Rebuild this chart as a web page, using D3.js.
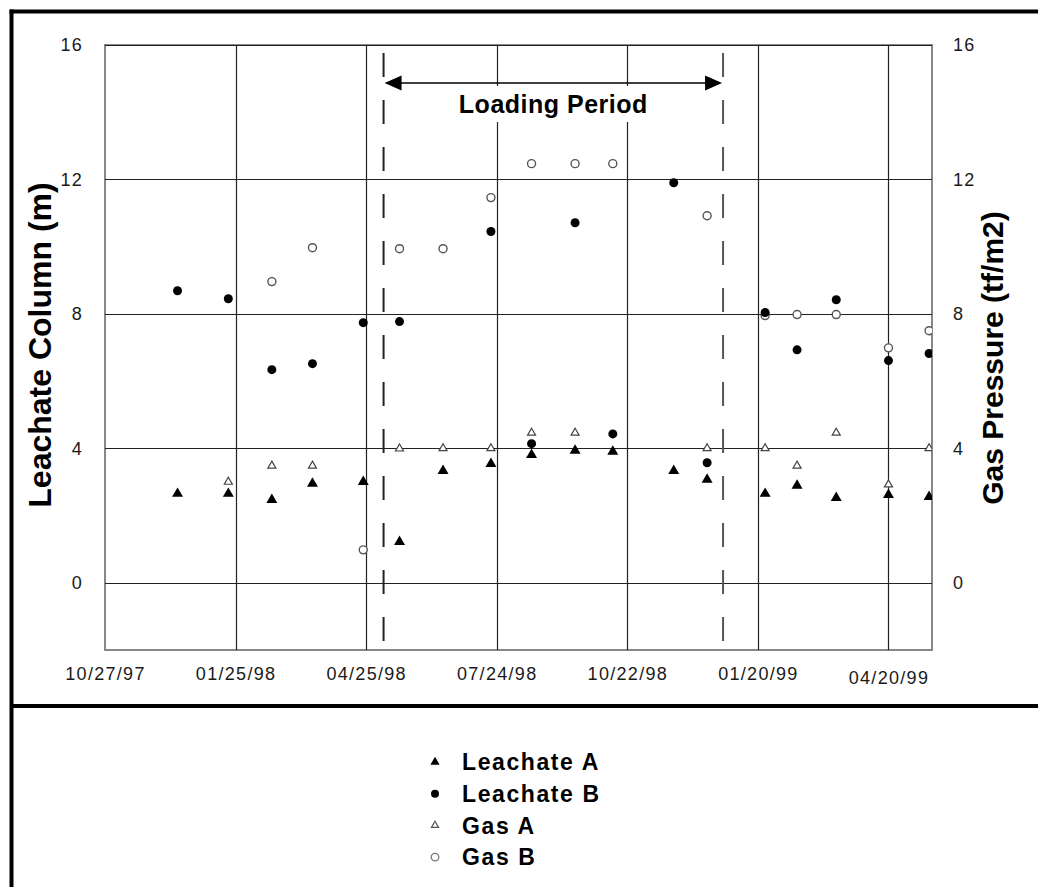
<!DOCTYPE html>
<html>
<head>
<meta charset="utf-8">
<script src="https://cdn.jsdelivr.net/npm/d3@7"></script>
<style>
  body { margin: 0; background: #fff; }
  svg text { font-family: "Liberation Sans", Arial, sans-serif; }
</style>
</head>
<body>
<svg id="chart" width="1038" height="890"></svg>
<script>
// axis ticks
const tickDates = ["10/27/97", "01/25/98", "04/25/98", "07/24/98", "10/22/98", "01/20/99", "04/20/99"];
const yTicks = [0, 4, 8, 12, 16];
const xDomain = ["10/27/97", "05/20/99"];
const yDomain = [-2, 16];
const loadingPeriod = ["05/07/98", "12/27/98"];

// series
const leachateADates = ["12/16/97", "01/20/98", "02/19/98", "03/19/98", "04/23/98", "05/18/98", "06/17/98", "07/20/98", "08/17/98",
  "09/16/98", "10/12/98", "11/23/98", "12/16/98", "01/25/99", "02/16/99", "03/15/99", "04/20/99", "05/18/99"];
const leachateA = [2.65, 2.65, 2.47, 2.95, 3.0, 1.22, 3.33, 3.54, 3.81, 3.93, 3.9, 3.33, 3.07, 2.65, 2.89, 2.53, 2.62, 2.56];

const leachateBDates = ["12/16/97", "01/20/98", "02/19/98", "03/19/98", "04/23/98", "05/18/98", "07/20/98", "08/17/98", "09/16/98",
  "10/12/98", "11/23/98", "12/16/98", "01/25/99", "02/16/99", "03/15/99", "04/20/99", "05/18/99"];
const leachateB = [8.69, 8.45, 6.34, 6.52, 7.74, 7.77, 10.45, 4.14, 10.71, 4.43, 11.9, 3.57, 8.04, 6.93, 8.42, 6.61, 6.82];

const gasADates = ["01/20/98", "02/19/98", "03/19/98", "05/18/98", "06/17/98", "07/20/98", "08/17/98", "09/16/98", "12/16/98",
  "01/25/99", "02/16/99", "03/15/99", "04/20/99", "05/18/99"];
const gasA = [3.0, 3.48, 3.48, 3.99, 4.0, 4.0, 4.46, 4.46, 4.0, 4.0, 3.48, 4.46, 2.92, 4.0];

const gasBDates = ["02/19/98", "03/19/98", "04/23/98", "05/18/98", "06/17/98", "07/20/98", "08/17/98", "09/16/98", "10/12/98",
  "12/16/98", "01/25/99", "02/16/99", "03/15/99", "04/20/99", "05/18/99"];
const gasB = [8.96, 9.97, 0.98, 9.94, 9.94, 11.46, 12.47, 12.47, 12.47, 10.92, 7.95, 7.98, 7.98, 6.99, 7.5];

const legendLabels = ["Leachate A", "Leachate B", "Gas A", "Gas B"];

const parse = d3.timeParse("%m/%d/%y");
const svg = d3.select("#chart");

const plotL = 105, plotR = 932, plotT = 45, plotB = 650;
const x = d3.scaleTime().domain(xDomain.map(parse)).range([plotL, plotR]);
const y = d3.scaleLinear().domain(yDomain).range([plotB, plotT]);

// outer frame
svg.append("line").attr("x1", 9.5).attr("x2", 1038).attr("y1", 11.5).attr("y2", 11.5)
  .attr("stroke", "#000").attr("stroke-width", 4);
svg.append("line").attr("x1", 11.5).attr("x2", 11.5).attr("y1", 9.5).attr("y2", 887)
  .attr("stroke", "#000").attr("stroke-width", 4);
svg.append("line").attr("x1", 11.5).attr("x2", 1038).attr("y1", 706).attr("y2", 706)
  .attr("stroke", "#000").attr("stroke-width", 4);

// plot border
svg.append("rect")
  .attr("x", plotL).attr("y", plotT)
  .attr("width", plotR - plotL).attr("height", plotB - plotT)
  .attr("fill", "none").attr("stroke", "#888").attr("stroke-width", 2);

// grid
svg.append("g").selectAll("line").data(tickDates.slice(1).map(parse)).join("line")
  .attr("x1", d => Math.round(x(d)) + 0.5).attr("x2", d => Math.round(x(d)) + 0.5)
  .attr("y1", plotT).attr("y2", plotB)
  .attr("stroke", "#222").attr("stroke-width", 1.2);
svg.append("g").selectAll("line").data(yTicks).join("line")
  .attr("x1", plotL).attr("x2", plotR)
  .attr("y1", d => Math.round(y(d)) + 0.5).attr("y2", d => Math.round(y(d)) + 0.5)
  .attr("stroke", "#222").attr("stroke-width", 1.2);

// axes
const styleTicks = g => {
  g.select(".domain").remove();
  g.selectAll("text")
    .style("font-size", "18px")
    .style("letter-spacing", "1.3px")
    .attr("fill", "#1a1a1a");
};
const xAxis = svg.append("g").attr("transform", `translate(0,${plotB})`)
  .call(d3.axisBottom(x).tickValues(tickDates.map(parse))
    .tickFormat(d3.timeFormat("%m/%d/%y")).tickSize(0).tickPadding(17))
  .call(styleTicks);
xAxis.selectAll(".tick text").filter((d, i) => i === tickDates.length - 1).attr("dy", "0.93em");

svg.append("g").attr("transform", `translate(${plotL},0)`)
  .call(d3.axisLeft(y).tickValues(yTicks).tickSize(0).tickPadding(22))
  .call(styleTicks);
svg.append("g").attr("transform", `translate(${plotR},0)`)
  .call(d3.axisRight(y).tickValues(yTicks).tickSize(0).tickPadding(21))
  .call(styleTicks);

// axis titles
svg.append("text")
  .attr("transform", "translate(51,345) rotate(-90)")
  .attr("text-anchor", "middle")
  .style("font-size", "32px").style("font-weight", "bold")
  .text("Leachate Column (m)");
svg.append("text")
  .attr("transform", "translate(1003,358) rotate(-90)")
  .attr("text-anchor", "middle")
  .style("font-size", "30px").style("font-weight", "bold")
  .text("Gas Pressure (tf/m2)");

// loading period markers
const lp = loadingPeriod.map(parse);
svg.append("g").selectAll("line").data(lp).join("line")
  .attr("x1", d => x(d)).attr("x2", d => x(d))
  .attr("y1", 53).attr("y2", 646)
  .attr("stroke", (d, i) => i === 0 ? "#222" : "#555").attr("stroke-width", 2)
  .attr("stroke-dasharray", "24,23");

// white box behind label
svg.append("rect").attr("x", 450).attr("y", 86).attr("width", 205).attr("height", 36).attr("fill", "#fff");
svg.append("text")
  .attr("x", (x(lp[0]) + x(lp[1])) / 2).attr("y", 113)
  .attr("text-anchor", "middle")
  .style("font-size", "25px").style("font-weight", "bold").style("letter-spacing", "0.5px")
  .text("Loading Period");

// double arrow
const ay = 83, ah = 17, aw = 7.5;
svg.append("line")
  .attr("x1", x(lp[0]) + ah).attr("x2", x(lp[1]) - ah)
  .attr("y1", ay).attr("y2", ay)
  .attr("stroke", "#000").attr("stroke-width", 1.6);
svg.append("path")
  .attr("d", `M${x(lp[0]) + 1},${ay} L${x(lp[0]) + ah + 1},${ay - aw} L${x(lp[0]) + ah + 1},${ay + aw} Z`)
  .attr("fill", "#000");
svg.append("path")
  .attr("d", `M${x(lp[1]) - 1},${ay} L${x(lp[1]) - ah - 1},${ay - aw} L${x(lp[1]) - ah - 1},${ay + aw} Z`)
  .attr("fill", "#000");

// markers
svg.append("clipPath").attr("id", "plotClip")
  .append("rect").attr("x", plotL).attr("y", plotT).attr("width", plotR - plotL).attr("height", plotB - plotT);
const marks = svg.append("g").attr("clip-path", "url(#plotClip)");

const triFilled = d3.symbol(d3.symbolTriangle, 52)();
const triOpen = d3.symbol(d3.symbolTriangle, 28)();

const zip = (dates, vals) => dates.map((d, i) => ({ date: parse(d), value: vals[i] }));

marks.append("g").selectAll("circle").data(zip(gasBDates, gasB)).join("circle")
  .attr("cx", d => x(d.date)).attr("cy", d => y(d.value)).attr("r", 4)
  .attr("fill", "#fff").attr("stroke", "#555").attr("stroke-width", 1.4);

marks.append("g").selectAll("path").data(zip(gasADates, gasA)).join("path")
  .attr("d", triOpen)
  .attr("transform", d => `translate(${x(d.date)},${y(d.value)})`)
  .attr("fill", "#fff").attr("stroke", "#444").attr("stroke-width", 1.2);

marks.append("g").selectAll("path").data(zip(leachateADates, leachateA)).join("path")
  .attr("d", triFilled)
  .attr("transform", d => `translate(${x(d.date)},${y(d.value)})`)
  .attr("fill", "#000");

marks.append("g").selectAll("circle").data(zip(leachateBDates, leachateB)).join("circle")
  .attr("cx", d => x(d.date)).attr("cy", d => y(d.value)).attr("r", 4.5)
  .attr("fill", "#000");

// legend
const legend = svg.append("g").attr("transform", "translate(435,762)");
const legendItems = legend.selectAll("g").data(legendLabels).join("g")
  .attr("transform", (d, i) => `translate(0,${i * 31.7})`);
legendItems.each(function (d, i) {
  const g = d3.select(this);
  if (i === 0) g.append("path").attr("d", d3.symbol(d3.symbolTriangle, 36)()).attr("fill", "#000");
  if (i === 1) g.append("circle").attr("r", 4).attr("fill", "#000");
  if (i === 2) g.append("path").attr("d", d3.symbol(d3.symbolTriangle, 22)())
    .attr("fill", "#fff").attr("stroke", "#555").attr("stroke-width", 1.2);
  if (i === 3) g.append("circle").attr("r", 3.8)
    .attr("fill", "#fff").attr("stroke", "#777").attr("stroke-width", 1.3);
});
legendItems.append("text")
  .attr("x", 27).attr("dy", "0.36em")
  .style("font-size", "23px").style("font-weight", "bold").style("letter-spacing", "1.6px")
  .text(d => d);
</script>
</body>
</html>
